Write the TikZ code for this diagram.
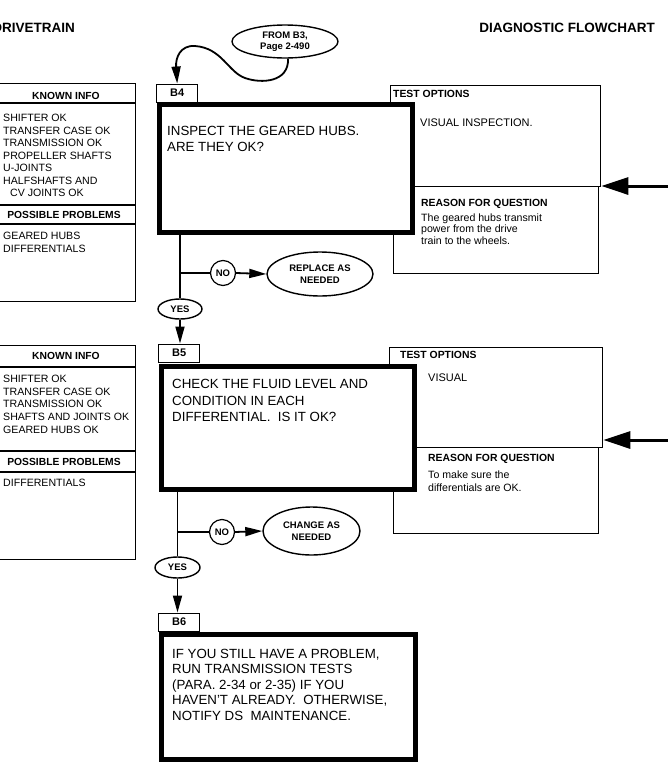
\documentclass[tikz,border=0pt]{standalone}
\usepackage{fontspec}
\setmainfont{Liberation Sans}
\usetikzlibrary{shapes.geometric, arrows.meta, positioning, calc}

\begin{document}
\begin{tikzpicture}[x=1pt, y=-1pt, >={Triangle[length=17pt,width=9pt]},
  title/.style={font=\fontsize{13.5}{16}\selectfont\bfseries, inner sep=0, anchor=base east},
  infobox/.style={draw, line width=1.3pt, anchor=north west, inner sep=0},
  optbox/.style={draw, line width=1.3pt, anchor=north west, inner sep=0},
  qbox/.style={draw, line width=4.5pt, anchor=north west, inner sep=0, fill=white},
  tagbox/.style={draw, line width=1.4pt, anchor=north west, inner sep=0,
    minimum width=41, minimum height=18, font=\fontsize{11}{13}\selectfont\bfseries},
  head/.style={font=\fontsize{10.3}{12}\selectfont\bfseries, inner sep=0, anchor=base},
  item/.style={font=\fontsize{10.6}{12}\selectfont, inner sep=0, anchor=base west},
  qtext/.style={font=\fontsize{13.3}{16.5}\selectfont, inner sep=0, anchor=base west, align=left},
  opthead/.style={font=\fontsize{10.4}{12}\selectfont\bfseries, inner sep=0, anchor=base west},
  opttext/.style={font=\fontsize{11}{12}\selectfont, inner sep=0, anchor=base west, align=left},
  oval/.style={draw, ellipse, line width=1.4pt, inner sep=0, align=center, fill=white,
    font=\fontsize{9.5}{11.5}\selectfont\bfseries},
  nocirc/.style={draw, circle, line width=1.2pt, minimum size=25, inner sep=0,
    font=\fontsize{9.5}{11}\selectfont\bfseries},
  flow/.style={line width=1.8pt},
  feed/.style={line width=3pt, -{Triangle[length=27pt,width=17pt]}}]

  \useasboundingbox (0,0) rectangle (668,777);

  % Headings
  \node[title] (sect) at (75,32) {DRIVETRAIN};
  \node[title] (kind) at (655,32) {DIAGNOSTIC FLOWCHART};

  % Entry from B3
  \node[oval, minimum width=106, minimum height=33] (from) at (285,41.5) {FROM B3,\\Page 2-490};

  % ---------------- B4 ----------------
  \node[infobox, minimum width=137, minimum height=218] (known4) at (-2,83) {};
  \foreach \y in {103, 205, 224} {
    \draw[line width=1.3pt] (known4.west |- 0,\y) -- (known4.east |- 0,\y);
  }
  \node[head] (known4h) at (66,99.5) {KNOWN INFO};
  \foreach \x/\y/\txt [count=\i] in {3/121.5/SHIFTER OK, 3/134/TRANSFER CASE OK,
      3/146.5/TRANSMISSION OK, 3/159/PROPELLER SHAFTS, 3/171.5/U-JOINTS,
      3/184/HALFSHAFTS AND, 10/196.5/CV JOINTS OK} {
    \node[item] (ka\i) at (\x,\y) {\txt};
  }
  \node[head] (prob4h) at (64,218.5) {POSSIBLE PROBLEMS};
  \node[item] (pa1) at (3,239.5) {GEARED HUBS};
  \node[item] (pa2) at (3,252) {DIFFERENTIALS};

  \node[optbox, minimum width=210, minimum height=101] (opt4) at (390,85) {};
  \node[optbox, minimum width=205, minimum height=87] (why4) at (393,186) {};
  \node[opthead] (opt4h) at (393,97) {TEST OPTIONS};
  \node[opttext] (opt4t) at (420,126) {VISUAL INSPECTION.};
  \node[opthead] (why4h) at (421,206) {REASON FOR QUESTION};
  % base anchor sits on the last line
  \node[opttext, font=\fontsize{10.6}{11.5}\selectfont] (why4t) at (421,244)
    {The geared hubs transmit\\power from the drive\\train to the wheels.};
  \coordinate (in4) at (675,186);
  \draw[feed] (in4) -- (in4 -| opt4.east);

  \node[tagbox] (b4tag) at (156,83.5) {B4};
  \node[qbox, minimum width=253, minimum height=128] (b4box) at (157,102) {};
  \node[qtext] (b4text) at (167,151.5) {INSPECT THE GEARED HUBS.\\ARE THEY OK?};

  \draw[->, flow] (from.-80) .. controls (289,82) and (262,84) .. (245,78)
    .. controls (228,72) and (222,48) .. (195,46)
    .. controls (180,45) and (175.5,58) .. (b4tag.north);

  \node[nocirc] (no4) at (223,273) {NO};
  \node[oval, minimum width=106, minimum height=44] (fix4) at (320,274) {REPLACE AS\\NEEDED};
  \node[oval, minimum width=44, minimum height=20] (yes4) at (180,309) {YES};
  \draw[flow] (yes4.north |- b4box.south) -- (yes4.north);
  \draw[flow] (yes4.north |- no4) -- (no4.west);
  \draw[->, flow] (no4.east) -- (fix4.west);

  % ---------------- B5 ----------------
  \node[infobox, minimum width=137, minimum height=214] (known5) at (-2,345) {};
  \foreach \y in {367, 451, 472} {
    \draw[line width=1.3pt] (known5.west |- 0,\y) -- (known5.east |- 0,\y);
  }
  \node[head] (known5h) at (66,359.5) {KNOWN INFO};
  \foreach \y/\txt [count=\i] in {382.5/SHIFTER OK, 395.2/TRANSFER CASE OK,
      407.9/TRANSMISSION OK, 420.6/SHAFTS AND JOINTS OK, 433.3/GEARED HUBS OK} {
    \node[item] (kb\i) at (3,\y) {\txt};
  }
  \node[head] (prob5h) at (64,465) {POSSIBLE PROBLEMS};
  \node[item] (pb1) at (3,486.7) {DIFFERENTIALS};

  \node[optbox, minimum width=213, minimum height=100] (opt5) at (389,347) {};
  \node[optbox, minimum width=205, minimum height=86] (why5) at (393,447) {};
  \node[opthead] (opt5h) at (400,358.5) {TEST OPTIONS};
  \node[opttext] (opt5t) at (428,381.5) {VISUAL};
  \node[opthead] (why5h) at (428,461.5) {REASON FOR QUESTION};
  \node[opttext, font=\fontsize{10.6}{13}\selectfont] (why5t) at (428,491)
    {To make sure the\\differentials are OK.};
  \coordinate (in5) at (675,440);
  \draw[feed] (in5) -- (in5 -| opt5.east);

  \node[tagbox] (b5tag) at (158,343.5) {B5};
  \node[qbox, minimum width=253, minimum height=123] (b5box) at (159,364) {};
  \node[qtext] (b5text) at (172,421.5)
    {CHECK THE FLUID LEVEL AND\\CONDITION IN EACH\\DIFFERENTIAL.\ \ IS IT OK?};
  \draw[->, flow] (yes4.south) -- (yes4.south |- b5tag.north);

  \node[nocirc] (no5) at (222,532) {NO};
  \node[oval, minimum width=97, minimum height=48] (fix5) at (311.5,531) {CHANGE AS\\NEEDED};
  \node[oval, minimum width=45, minimum height=21] (yes5) at (177.5,567.5) {YES};
  \draw[flow] (yes5.north |- b5box.south) -- (yes5.north);
  \draw[flow] (yes5.north |- no5) -- (no5.west);
  \draw[->, flow] (no5.east) -- (fix5.west);

  % ---------------- B6 ----------------
  \node[tagbox] (b6tag) at (158,612.5) {B6};
  \node[qbox, minimum width=254, minimum height=125] (b6box) at (159,632) {};
  \node[qtext, font=\fontsize{13.3}{15.5}\selectfont] (b6text) at (172,720)
    {IF YOU STILL HAVE A PROBLEM,\\RUN TRANSMISSION TESTS\\(PARA. 2-34 or 2-35) IF YOU\\
     HAVEN'T ALREADY.\ \ OTHERWISE,\\NOTIFY DS\ \ MAINTENANCE.};
  \draw[->, flow] (yes5.south) -- (yes5.south |- b6tag.north);
\end{tikzpicture}
\end{document}
